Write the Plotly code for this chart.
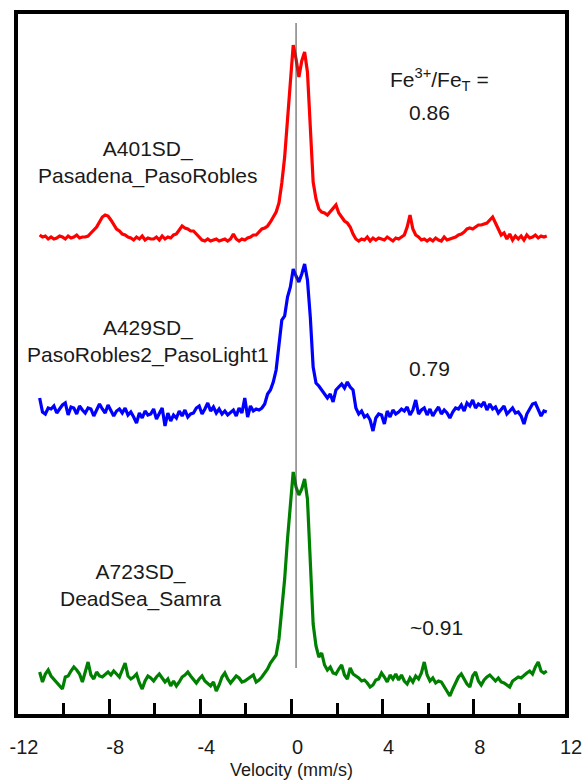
import numpy as np
import plotly.graph_objects as go

# Velocity channels (mm/s)
velocity = np.linspace(-11.05, 11.2, 179)

# Relative absorption (arbitrary units above each baseline)
red_A401SD = [
    2, 0, 1, -2, 0, -2, -1, 1,
    0, -2, 1, -1, 0, 2, -1, 0,
    0, 1, 4, 7, 10, 15, 20, 22,
    21, 17, 12, 8, 6, 3, 2, 0,
    -1, -3, 0, -2, 1, -3, -1, -2,
    -2, 0, -3, 1, -2, 0, -1, 2,
    3, 7, 11, 9, 8, 6, 6, 3,
    0, -3, -4, -2, -4, -3, -2, -4,
    -3, -2, -4, -2, 3, -2, -4, -2,
    -3, -1, 0, 2, 2, 5, 8, 9,
    11, 15, 20, 25, 34, 54, 80, 115,
    150, 192, 178, 160, 176, 185, 165, 110,
    55, 38, 28, 25, 24, 22, 25, 28,
    32, 24, 20, 16, 14, 10, 3, -2,
    -4, -2, -3, 0, -4, -1, -3, -1,
    -2, -3, 0, -2, -4, -1, -2, 0,
    2, 10, 22, 8, 2, 0, -3, -2,
    -4, -2, -4, -1, -3, -4, 0, -3,
    -2, -1, 0, 2, 3, 5, 8, 9,
    8, 10, 12, 12, 13, 14, 17, 20,
    14, 8, 2, 4, -2, 3, -3, 1,
    -2, 1, -3, 2, -1, 0, 2, -1,
    1, 0, 1,
]

blue_A429SD = [
    14, 0, -2, 4, 3, 6, -1, 3,
    7, 9, -3, 5, 4, -2, 6, 2,
    -1, 4, 3, -4, 2, 8, 3, -1,
    7, 2, -4, 1, 3, -1, 4, -3,
    0, -5, -11, -1, -6, 1, -3, -2,
    3, -7, -2, 4, -14, -1, -9, -3,
    -6, 1, -4, 2, -5, -2, -1, 4,
    6, -2, 3, 9, 1, 5, -1, 3,
    -2, 1, -3, 0, 2, -4, 4, -1,
    14, -5, 6, 1, 3, 2, 4, 8,
    18, 22, 30, 42, 70, 92, 96, 115,
    125, 143, 136, 130, 138, 148, 132, 95,
    45, 29, 26, 22, 19, 14, 18, 10,
    22, 25, 28, 24, 30, 25, 22, 4,
    -2, 1, -5, -3, -8, -19, -6, -2,
    -3, -12, 1, -5, 2, -2, 0, 3,
    1, 5, -3, 2, 12, -2, 2, 4,
    -3, 3, -4, 1, 5, -2, 2, -1,
    -6, 0, 4, 3, 7, 1, 9, 6,
    12, 4, 8, 6, 10, 2, 8, 3,
    5, -1, 3, 6, -2, 1, 4, -1,
    0, -4, -12, -2, 3, 8, 9, 2,
    -4, 1, 0,
]

green_A723SD = [
    7, -3, 5, 9, 3, 0, -4, -6,
    -10, 2, 3, 8, 12, 9, 5, -3,
    6, 17, 4, 0, 7, 3, 2, 5,
    7, 4, 8, 5, 2, 9, 16, 3,
    0, 2, 5, -4, -10, -2, 3, 1,
    -2, 2, 5, 1, -3, 0, -7, -2,
    -7, -3, 2, 4, 7, 3, 0, -4,
    0, 3, -2, -5, -7, -3, -12, -6,
    2, 6, 0, -4, -1, 3, 1, -3,
    -2, 0, 2, 4, -3, -1, 2, 6,
    10, 16, 20, 24, 40, 68, 100, 140,
    175, 207, 192, 184, 190, 200, 180, 120,
    55, 33, 22, 26, 14, 9, 12, 6,
    5, 10, 14, 4, 0, 11, 5, 3,
    1, -2, -1, -4, -8, -6, -1, 0,
    6, 2, -3, 4, 0, 5, -1, 4,
    -2, -5, 1, -3, 3, 0, 6, 17,
    4, -2, 1, -4, -2, -3, -8, -12,
    -17, -10, -3, 2, 5, 0, -5, -8,
    3, 7, -2, -6, -1, 2, 4, 1,
    -2, 1, -3, -4, -6, -8, -2, 0,
    2, 1, 4, 6, 8, 5, 12, 17,
    8, 6, 8,
]

# Stacking offsets of each spectrum
offset_red = 477
offset_blue = 302
offset_green = 35

sample_labels = ["A401SD_<br>Pasadena_PasoRobles",
                 "A429SD_<br>PasoRobles2_PasoLight1",
                 "A723SD_<br>DeadSea_Samra"]
ratio_labels = ["0.86", "0.79", "~0.91"]
ratio_header = "Fe<sup>3+</sup>/Fe<sub>T</sub> ="

x_tick_vals = [-12, -8, -4, 0, 4, 8, 12]
x_tick_text = ["-12", "-8", "-4", "0", "4", "8", "12"]
major_mark_vals = [-8, -4, 0, 4, 8]
minor_mark_vals = [-10, -6, -2, 2, 6, 10]

zero_line_x = 0.2
zero_line_y = [46, 691]

FONT = "Liberation Sans, Arial, sans-serif"
TXT = "#1a1a1a"

fig = go.Figure()
fig.add_trace(go.Scatter(x=[zero_line_x, zero_line_x], y=zero_line_y, mode="lines",
                         line=dict(color="#444444", width=1), xaxis="x2", showlegend=False,
                         hoverinfo="skip"))
for vals, off, col in [(red_A401SD, offset_red, "#FF0000"),
                       (blue_A429SD, offset_blue, "#0000FF"),
                       (green_A723SD, offset_green, "#008000")]:
    fig.add_trace(go.Scatter(x=velocity, y=np.array(vals) + off, mode="lines",
                             line=dict(color=col, width=3.2), showlegend=False))

# annotations
ann = []
label_pos = [(-6.29, 552), (-6.29, 373), (-6.64, 129)]
for t, (x, y) in zip(sample_labels, label_pos):
    ann.append(dict(x=x, y=y, text=t, showarrow=False, font=dict(family=FONT, size=21, color=TXT),
                    xanchor="center", yanchor="middle", align="center"))
ratio_pos = [(6.07, 602), (6.07, 346), (6.34, 87)]
for t, (x, y) in zip(ratio_labels, ratio_pos):
    ann.append(dict(x=x, y=y, text=t, showarrow=False, font=dict(family=FONT, size=21, color=TXT),
                    xanchor="center", yanchor="middle"))
ann.append(dict(x=6.51, y=635, text=ratio_header, showarrow=False,
                font=dict(family=FONT, size=21, color=TXT), xanchor="center", yanchor="middle"))

fig.update_layout(
    width=587, height=780, autosize=False,
    margin=dict(l=18, r=22, t=14, b=66, autoexpand=False),
    paper_bgcolor="white", plot_bgcolor="white",
    showlegend=False,
    annotations=ann,
    xaxis=dict(range=[-12, 12], tickvals=x_tick_vals, ticktext=x_tick_text, ticks="",
               showline=True, linewidth=4, linecolor="black", mirror=True, automargin=False,
               showgrid=False, zeroline=False, ticklabelstandoff=12, ticklabelshift=6,
               tickfont=dict(family=FONT, size=20, color=TXT),
               title=dict(text="Velocity (mm/s)", font=dict(family=FONT, size=18, color=TXT),
                          standoff=9)),
    xaxis2=dict(range=[-12, 12], overlaying="x", anchor="y", side="bottom", automargin=False,
                tickvals=major_mark_vals, ticks="inside", ticklen=15, tickwidth=3, tickcolor="black",
                showticklabels=False, showline=False, showgrid=False, zeroline=False,
                minor=dict(tickvals=minor_mark_vals, ticks="inside", ticklen=11, tickwidth=3,
                           tickcolor="black", showgrid=False)),
    yaxis=dict(range=[0, 700], showticklabels=False, ticks="", showline=True, linewidth=4,
               linecolor="black", mirror=True, showgrid=False, zeroline=False, automargin=False),
)

fig.write_html("out.html")
